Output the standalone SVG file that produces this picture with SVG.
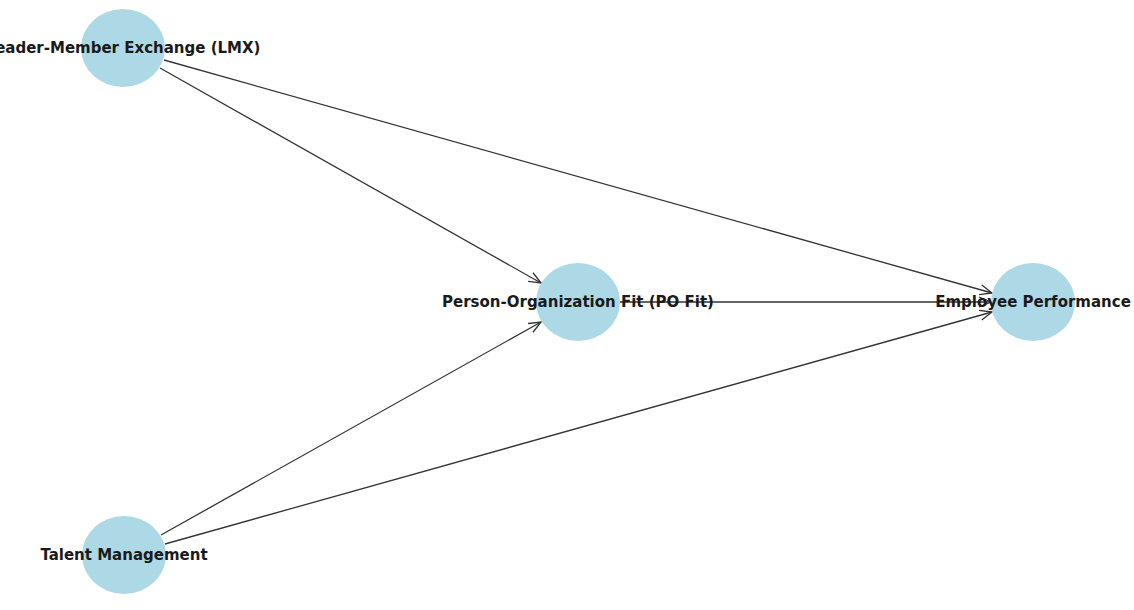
<svg xmlns="http://www.w3.org/2000/svg" width="1134" height="610" viewBox="0 0 1134 610">
<style>
.node{fill:#add8e6;}
.lbl{font-family:"DejaVu Sans",sans-serif;font-weight:bold;font-size:15px;fill:#1a1a1a;text-anchor:middle;dominant-baseline:central;}
.edge{stroke:#333;stroke-width:1.3;fill:none;marker-end:url(#arr);}
</style>
<defs>
<marker id="arr" markerUnits="userSpaceOnUse" markerWidth="20" markerHeight="20" refX="0" refY="0" viewBox="-12 -10 14 20" orient="auto">
<path d="M-12,-5 L0,0 L-12,5" stroke="#333" stroke-width="1.3" fill="none"/>
</marker>
</defs>
<rect width="1134" height="610" fill="#fff"/>
<g id="connectors">
<line class="edge" x1="160" y1="68" x2="541" y2="283"/>
<line class="edge" x1="164" y1="60" x2="992" y2="293"/>
<line class="edge" x1="620" y1="302" x2="991" y2="302"/>
<line class="edge" x1="161" y1="535" x2="541" y2="322"/>
<line class="edge" x1="165" y1="544" x2="992" y2="312"/>
</g>
<g id="n-lmx"><ellipse class="node" cx="123" cy="48" rx="42" ry="39"/><text class="lbl" x="123" y="48">Leader-Member Exchange (LMX)</text></g>
<g id="n-po"><ellipse class="node" cx="578" cy="302" rx="42" ry="39"/><text class="lbl" x="578" y="302">Person-Organization Fit (PO Fit)</text></g>
<g id="n-ep"><ellipse class="node" cx="1033" cy="302" rx="42" ry="39"/><text class="lbl" x="1033" y="302">Employee Performance</text></g>
<g id="n-tm"><ellipse class="node" cx="124" cy="555" rx="42" ry="39"/><text class="lbl" x="124" y="555">Talent Management</text></g>
</svg>
